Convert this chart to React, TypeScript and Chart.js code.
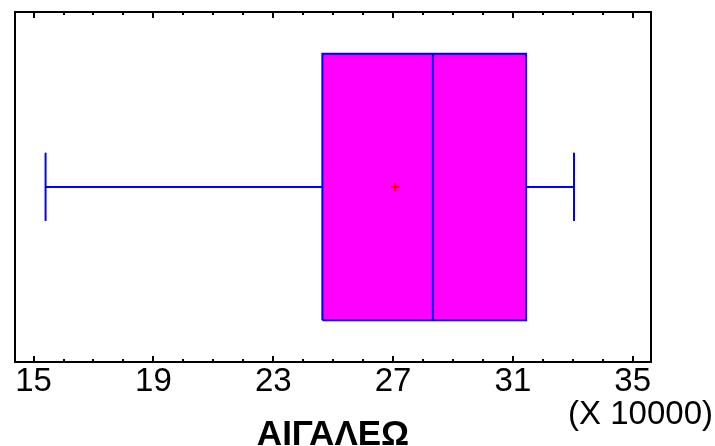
import React, { useEffect, useRef } from "react";
import { Chart, registerables } from "chart.js";

Chart.register(...registerables);

// Data (values in units of 10000)
const CATEGORIES = ["ΑΙΓΑΛΕΩ"];
const MIN_VALUES = [15.4];
const Q1_VALUES = [24.64];
const MEDIAN_VALUES = [28.33];
const Q3_VALUES = [31.44];
const MAX_VALUES = [33.04];
const MEAN_VALUES = [27.07];
const X_TICKS = [15, 19, 23, 27, 31, 35];
const MINOR_STEP = 1;
const X_MIN = 14.38;
const X_MAX = 35.61;
const SCALE_NOTE = "(X 10000)";

const FONT = "'Liberation Sans', Arial, sans-serif";
const FONT_SIZE = 33;
const TITLE_SIZE = 35;

export default function App() {
  const ref = useRef<HTMLCanvasElement | null>(null);

  useEffect(() => {
    document.body.style.margin = "0";
    const canvas = ref.current;
    if (!canvas) return;

    const i = 0;
    const yBoxLo = 0.119;
    const yBoxHi = 0.881;
    const yMid = 0.5;
    const yCapLo = 0.403;
    const yCapHi = 0.598;

    const line = (pts: { x: number; y: number }[], color: string, width = 2) => ({
      data: pts,
      showLine: true,
      borderColor: color,
      borderWidth: width,
      pointRadius: 0,
      tension: 0,
      fill: false,
      order: 1,
    });

    const framePlugin = {
      id: "frame",
      afterDatasetsDraw(chart: any) {
        const { ctx, chartArea } = chart;
        const xs = chart.scales.x;
        const { left, right, top, bottom } = chartArea;
        ctx.save();
        ctx.strokeStyle = "#000";
        ctx.lineWidth = 2;
        ctx.beginPath();
        ctx.rect(left, top, right - left, bottom - top);
        ctx.stroke();
        // inward tick marks (top and bottom)
        for (let v = X_TICKS[0]; v <= X_TICKS[X_TICKS.length - 1] + 1e-9; v += MINOR_STEP) {
          const px = Math.round(xs.getPixelForValue(v));
          const major = X_TICKS.some((t) => Math.abs(t - v) < 1e-6);
          const len = major ? 6 : 3;
          ctx.beginPath();
          ctx.moveTo(px, bottom);
          ctx.lineTo(px, bottom - len);
          ctx.moveTo(px, top);
          ctx.lineTo(px, top + len);
          ctx.stroke();
        }
        ctx.fillStyle = "#000";
        ctx.font = `${FONT_SIZE}px ${FONT}`;
        ctx.textAlign = "right";
        ctx.textBaseline = "middle";
        ctx.fillText(SCALE_NOTE, 713, 415);
        ctx.restore();
      },
    };

    const chart = new Chart(canvas, {
      type: "scatter",
      data: {
        datasets: [
          {
            data: [{ x: MEAN_VALUES[i], y: yMid }],
            pointStyle: "cross",
            pointRadius: 4,
            borderColor: "#FF0000",
            borderWidth: 2,
            order: 0,
          } as any,
          line(
            [
              { x: Q1_VALUES[i], y: yBoxLo },
              { x: Q3_VALUES[i], y: yBoxLo },
              { x: Q3_VALUES[i], y: yBoxHi },
              { x: Q1_VALUES[i], y: yBoxHi },
              { x: Q1_VALUES[i], y: yBoxLo },
            ],
            "#0000FF"
          ),
          line(
            [
              { x: MEDIAN_VALUES[i], y: yBoxLo },
              { x: MEDIAN_VALUES[i], y: yBoxHi },
            ],
            "#0000FF"
          ),
          line(
            [
              { x: MIN_VALUES[i], y: yMid },
              { x: Q1_VALUES[i], y: yMid },
            ],
            "#0000FF"
          ),
          line(
            [
              { x: Q3_VALUES[i], y: yMid },
              { x: MAX_VALUES[i], y: yMid },
            ],
            "#0000FF"
          ),
          line(
            [
              { x: MIN_VALUES[i], y: yCapLo },
              { x: MIN_VALUES[i], y: yCapHi },
            ],
            "#0000FF"
          ),
          line(
            [
              { x: MAX_VALUES[i], y: yCapLo },
              { x: MAX_VALUES[i], y: yCapHi },
            ],
            "#0000FF"
          ),
          {
            data: [
              { x: Q1_VALUES[i], y: yBoxHi },
              { x: Q3_VALUES[i], y: yBoxHi },
            ],
            showLine: true,
            borderWidth: 0,
            borderColor: "rgba(0,0,0,0)",
            backgroundColor: "#FF00FF",
            pointRadius: 0,
            fill: { value: yBoxLo },
            order: 10,
          } as any,
        ],
      },
      options: {
        animation: false,
        responsive: false,
        events: [],
        layout: { padding: { left: 15, right: 64, top: 12, bottom: 0 } },
        plugins: {
          legend: { display: false },
          tooltip: { enabled: false },
        },
        scales: {
          x: {
            type: "linear",
            min: X_MIN,
            max: X_MAX,
            afterBuildTicks: (scale: any) => {
              scale.ticks = X_TICKS.map((v) => ({ value: v }));
            },
            grid: { display: false, drawTicks: false },
            border: { display: false },
            ticks: {
              autoSkip: false,
              maxRotation: 0,
              padding: 3,
              color: "#000",
              font: { family: FONT, size: FONT_SIZE, lineHeight: 1.0 },
              callback: (v: any) => String(v),
            },
            title: {
              display: true,
              text: CATEGORIES[i],
              color: "#000",
              font: { family: FONT, size: TITLE_SIZE, weight: "bold", lineHeight: 0.63 },
              padding: { top: 23, bottom: 0 },
            },
          },
          y: {
            type: "linear",
            display: false,
            min: 0,
            max: 1,
          },
        },
      },
      plugins: [framePlugin],
    } as any);

    return () => chart.destroy();
  }, []);

  return (
    <div style={{ width: 715, height: 446 }}>
      <canvas ref={ref} width={715} height={446} style={{ display: "block" }} />
    </div>
  );
}
